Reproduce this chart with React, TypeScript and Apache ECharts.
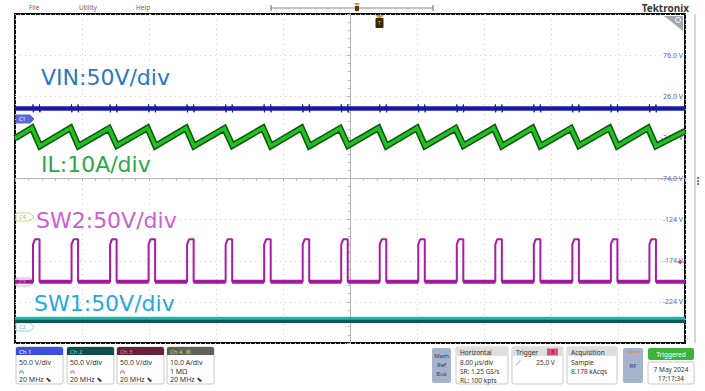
import { useEffect, useRef } from "react";
import * as echarts from "echarts";

// ---- data (time in µs, vertical in graticule divisions) ----
const ilPeakT = [-37.97, -33.37, -28.78, -24.18, -19.58, -14.99, -10.39, -5.79, -1.19, 3.4, 8.0, 12.6, 17.19, 21.79, 26.39, 30.98, 35.58];
const ilTroughT = [-37.02, -32.42, -27.83, -23.23, -18.63, -14.04, -9.44, -4.84, -0.24, 4.35, 8.95, 13.55, 18.14, 22.74, 27.34, 31.93, 36.53];
const ilPeakV = [1.23, 1.23, 1.22, 1.23, 1.23, 1.22, 1.23, 1.23, 1.22, 1.23, 1.23, 1.22, 1.23, 1.23, 1.22, 1.23, 1.23];
const ilTroughV = [0.79, 0.79, 0.8, 0.79, 0.79, 0.8, 0.79, 0.79, 0.8, 0.79, 0.79, 0.8, 0.79, 0.79, 0.8, 0.79, 0.79];
const ilEdge = [0.98, 1.15];

const sw2Rise = [-37.85, -33.25, -28.65, -24.05, -19.45, -14.85, -10.25, -5.65, -1.05, 3.55, 8.15, 12.75, 17.35, 21.95, 26.55, 31.15, 35.75];
const sw2Fall = [-37.07, -32.47, -27.87, -23.27, -18.67, -14.07, -9.47, -4.87, -0.27, 4.33, 8.93, 13.53, 18.13, 22.73, 27.33, 31.93, 36.53];
const sw2Levels = { low: -2.51, highStart: -1.6, highEnd: -1.48 };

const vinLevel = 1.7;
const vinSpike = [0.1, -0.09];
const sw1Level = -3.41;

const divTicks = [3, 2, 1, 0, -1, -2, -3];
const voltTickLabels = ["76.0 V", "26.0 V", "-24.0 V", "-74.0 V", "-124 V", "-174 V", "-224 V"];

const FONT = "'Noto Sans', 'DejaVu Sans', sans-serif";
const ANNOT_FONT = "'DejaVu Sans', 'Noto Sans', sans-serif";

function buildIL() {
  const d: [number, number][] = [[-40, ilEdge[0]]];
  ilPeakT.forEach((t, i) => {
    d.push([t, ilPeakV[i]]);
    d.push([ilTroughT[i], ilTroughV[i]]);
  });
  d.push([40, ilEdge[1]]);
  return d;
}

function buildSW2() {
  const d: [number, number][] = [[-40, sw2Levels.low]];
  sw2Rise.forEach((r, i) => {
    const f = sw2Fall[i];
    d.push([r, sw2Levels.low]);
    d.push([r, sw2Levels.highStart]);
    d.push([r + (f - r) * 0.3, sw2Levels.highEnd]);
    d.push([f, sw2Levels.highEnd]);
    d.push([f, sw2Levels.low]);
  });
  d.push([40, sw2Levels.low]);
  return d;
}

function buildSW2Low() {
  const d: ([number, number] | [number, null])[] = [];
  const starts = [-40, ...sw2Fall];
  const ends = [...sw2Rise, 40];
  starts.forEach((s, i) => {
    d.push([s, sw2Levels.low]);
    d.push([ends[i], sw2Levels.low]);
    d.push([ends[i], null]);
  });
  return d;
}

function buildVINNoise() {
  const d: [number, number][] = [[-40, vinLevel]];
  [...sw2Rise, ...sw2Fall].sort((a, b) => a - b).forEach((t) => {
    d.push([t - 0.03, vinLevel]);
    d.push([t, vinLevel + vinSpike[0]]);
    d.push([t + 0.04, vinLevel + vinSpike[1]]);
    d.push([t + 0.08, vinLevel]);
  });
  d.push([40, vinLevel]);
  return d;
}

function txt(x: number, y: number, text: string, size: number, fill: string, opts: any = {}) {
  return {
    type: "text",
    x,
    y,
    silent: true,
    z: opts.z ?? 10,
    style: {
      text,
      fill,
      fontSize: size,
      fontFamily: opts.family ?? FONT,
      fontWeight: opts.weight ?? "normal",
      align: opts.align ?? "left",
      verticalAlign: opts.va ?? "middle",
    },
  };
}

function tag(y: number, label: string, stroke: string, fill: string, textFill: string) {
  return {
    type: "group",
    z: 20,
    children: [
      {
        type: "polygon",
        shape: { points: [[16, y - 4], [30, y - 4], [34, y], [30, y + 4], [16, y + 4]] },
        style: { fill, stroke, lineWidth: 1 },
      },
      txt(19, y, label, 5.5, textFill),
    ],
  };
}

function chPanel(x: number, head: string, headColor: string, headText: string, lines: string[]) {
  const w = 47;
  return {
    type: "group",
    children: [
      { type: "rect", shape: { x, y: 347, width: w, height: 37, r: 2 }, style: { fill: "#fff", stroke: "#c8c8c8", lineWidth: 1 } },
      { type: "rect", shape: { x, y: 347, width: w, height: 8, r: [2, 2, 0, 0] }, style: { fill: headColor } },
      txt(x + 3, 351.5, head, 6, headText),
      ...lines.map((l, i) => txt(x + 3, 362.5 + i * 8.5, l, 7, "#333")),
    ],
  };
}

function infoPanel(x: number, w: number, head: string, lines: string[]) {
  return {
    type: "group",
    children: [
      { type: "rect", shape: { x, y: 347, width: w, height: 37, r: 2 }, style: { fill: "#fff", stroke: "#c8c8c8", lineWidth: 1 } },
      { type: "rect", shape: { x: x + 1, y: 348, width: w - 2, height: 8 }, style: { fill: "#dedede" } },
      txt(x + 4, 352, head, 6.5, "#333"),
      ...lines.map((l, i) => txt(x + 4, 362 + i * 9, l, 6.5, "#333")),
    ],
  };
}

export default function App() {
  const ref = useRef<HTMLDivElement>(null);
  useEffect(() => {
    document.body.style.margin = "0";
    const chart = echarts.init(ref.current!, null, { renderer: "svg" });
    const lineBase = { type: "line", showSymbol: false, symbol: "none", silent: true, animation: false, xAxisIndex: 0, yAxisIndex: 0 };
    const option: any = {
      animation: false,
      backgroundColor: "#ffffff",
      grid: { left: 15, right: 20, top: 14, bottom: 48, show: true, borderColor: "#111", borderWidth: 2, backgroundColor: "transparent" },
      xAxis: {
        type: "value",
        min: -40,
        max: 40,
        interval: 8,
        axisLine: { show: true, onZero: true, lineStyle: { color: "#b4b4b4", width: 1 } },
        axisTick: { show: true, length: 3, lineStyle: { color: "#b4b4b4" } },
        minorTick: { show: true, splitNumber: 5, length: 2, lineStyle: { color: "#b4b4b4" } },
        axisLabel: { show: false },
        splitLine: { show: true, lineStyle: { color: "#cfcfcf", type: [1, 4] } },
      },
      yAxis: [
        {
          type: "value",
          min: -4,
          max: 4,
          interval: 1,
          axisLine: { show: true, onZero: true, lineStyle: { color: "#b4b4b4", width: 1 } },
          axisTick: { show: true, length: 3, lineStyle: { color: "#b4b4b4" } },
          minorTick: { show: true, splitNumber: 5, length: 2, lineStyle: { color: "#b4b4b4" } },
          axisLabel: { show: false },
          splitLine: { show: true, lineStyle: { color: "#cfcfcf", type: [1, 4] } },
        },
        {
          type: "value",
          position: "right",
          min: -4,
          max: 4,
          interval: 1,
          axisLine: { show: false },
          axisTick: { show: false },
          splitLine: { show: false },
          axisLabel: {
            inside: true,
            margin: 2,
            color: "#5e5ec4",
            fontSize: 7,
            fontFamily: FONT,
            formatter: (v: number) => {
              const i = divTicks.indexOf(Math.round(v));
              return i >= 0 ? voltTickLabels[i] : "";
            },
          },
        },
      ],
      series: [
        { ...lineBase, name: "VIN", data: [[-40, vinLevel], [40, vinLevel]], z: 3, lineStyle: { color: "#1a1aa8", width: 4.5 } },
        { ...lineBase, name: "VIN-noise", data: buildVINNoise(), z: 3, lineStyle: { color: "#1a1aa8", width: 1 } },
        { ...lineBase, name: "IL-edge", data: buildIL(), z: 4, lineStyle: { color: "#0d560d", width: 6.5, join: "miter" } },
        { ...lineBase, name: "IL", data: buildIL(), z: 5, lineStyle: { color: "#22bf22", width: 3.5, join: "miter" } },
        { ...lineBase, name: "SW2", data: buildSW2(), z: 6, lineStyle: { color: "#a81ca8", width: 2 } },
        { ...lineBase, name: "SW2-low", data: buildSW2Low(), connectNulls: false, z: 6, lineStyle: { color: "#a01aa0", width: 4 } },
        { ...lineBase, name: "SW1-edge", data: [[-40, sw1Level - 0.04], [40, sw1Level - 0.04]], z: 3, lineStyle: { color: "#0b5a5a", width: 5 } },
        { ...lineBase, name: "SW1", data: [[-40, sw1Level + 0.01], [40, sw1Level + 0.01]], z: 4, lineStyle: { color: "#22b6b0", width: 3 } },
      ],
      graphic: [
        // top bar
        txt(29, 7, "File", 6.5, "#666"),
        txt(79, 7, "Utility", 6.5, "#666"),
        txt(136, 7, "Help", 6.5, "#666"),
        { type: "line", shape: { x1: 271, y1: 8, x2: 433, y2: 8 }, style: { stroke: "#888", lineWidth: 1 } },
        { type: "line", shape: { x1: 271, y1: 5, x2: 271, y2: 11 }, style: { stroke: "#666", lineWidth: 1 } },
        { type: "line", shape: { x1: 433, y1: 5, x2: 433, y2: 11 }, style: { stroke: "#666", lineWidth: 1 } },
        { type: "polygon", shape: { points: [[354, 3], [360, 3], [357, 6]] }, style: { fill: "#e08a30" } },
        { type: "rect", shape: { x: 355, y: 6, width: 4, height: 5 }, style: { fill: "#5a3a10" } },
        txt(689, 8, "Tektronix", 10, "#3a3a3a", { align: "right", weight: "bold" }),
        // trigger T marker
        { type: "polygon", z: 20, shape: { points: [[375, 15], [384, 15], [379.5, 19]] }, style: { fill: "#f09030" } },
        { type: "rect", z: 20, shape: { x: 375.5, y: 18, width: 8, height: 10, r: 1 }, style: { fill: "#3a2a0a" } },
        txt(379.5, 23, "T", 6, "#f0a040", { align: "center", z: 21 }),
        // zoom icon corner
        { type: "polygon", z: 20, shape: { points: [[664, 16], [683, 16], [683, 31]] }, style: { fill: "#a2aab8" } },
        { type: "circle", z: 21, shape: { cx: 678, cy: 20, r: 2.5 }, style: { fill: "none", stroke: "#fff", lineWidth: 1 } },
        // right side strip
        { type: "line", shape: { x1: 695, y1: 14, x2: 695, y2: 343 }, style: { stroke: "#b0b0b0", lineWidth: 1 } },
        { type: "circle", shape: { cx: 698, cy: 178, r: 0.9 }, style: { fill: "#444" } },
        { type: "circle", shape: { cx: 698, cy: 181, r: 0.9 }, style: { fill: "#444" } },
        { type: "circle", shape: { cx: 698, cy: 184, r: 0.9 }, style: { fill: "#444" } },
        // trigger level arrow
        { type: "polygon", z: 20, shape: { points: [[677, 262], [681, 259.5], [681, 264.5]] }, style: { fill: "#d0406a" } },
        { type: "line", z: 20, shape: { x1: 680, y1: 262, x2: 684, y2: 262 }, style: { stroke: "#d0406a", lineWidth: 1 } },
        // channel tags
        tag(119, "C1", "#5a68d8", "#5a68d8", "#ffffff"),
        tag(217, "C4", "#c8d890", "#ffffff", "#a8b868"),
        tag(282, "C3", "#eaa8c8", "#ffffff", "#e090b8"),
        tag(327, "C2", "#90d4e8", "#ffffff", "#60bcd8"),
        // annotations
        txt(41, 77, "VIN:50V/div", 22, "#2a78c2", { z: 30, family: ANNOT_FONT }),
        txt(41, 164, "IL:10A/div", 22, "#2ea84a", { z: 30, family: ANNOT_FONT }),
        txt(36, 220.5, "SW2:50V/div", 22, "#c862d0", { z: 30, family: ANNOT_FONT }),
        txt(34, 303.5, "SW1:50V/div", 22, "#28a8e0", { z: 30, family: ANNOT_FONT }),
        // bottom channel panels
        chPanel(16, "Ch 1", "#3c4fe0", "#ffffff", ["50.0 V/div", "⩀", "20 MHz ⬊"]),
        chPanel(67, "Ch 2", "#0f4d4d", "#7ad0d0", ["50.0 V/div", "⩀", "20 MHz ⬊"]),
        chPanel(117, "Ch 3", "#6a1f36", "#e090b0", ["50.0 V/div", "⩀", "20 MHz ⬊"]),
        chPanel(167, "Ch 4  ⚙", "#5e6258", "#c8d870", ["10.0 A/div", "1 MΩ", "20 MHz ⬊"]),
        // right panels
        { type: "rect", shape: { x: 432, y: 348, width: 19, height: 35, r: 2 }, style: { fill: "#a7b2cc" } },
        txt(441.5, 356, "Math", 6, "#2c3a66", { align: "center" }),
        txt(441.5, 365, "Ref", 6, "#2c3a66", { align: "center" }),
        txt(441.5, 374, "Bus", 6, "#2c3a66", { align: "center" }),
        infoPanel(456, 52, "Horizontal", ["8.00 µs/div", "SR: 1.25 GS/s", "RL: 100 kpts"]),
        infoPanel(512, 51, "Trigger", ["⟋         25.0 V"]),
        { type: "rect", shape: { x: 547, y: 348.5, width: 11, height: 7 }, style: { fill: "#e0507a" } },
        txt(552.5, 352, "3", 5.5, "#5a0a20", { align: "center" }),
        infoPanel(567, 50, "Acquisition", ["Sample", "8.178 kAcqs"]),
        { type: "rect", shape: { x: 623, y: 348, width: 20, height: 35, r: 2 }, style: { fill: "#a7b2cc" } },
        { type: "line", shape: { x1: 627, y1: 352, x2: 639, y2: 352 }, style: { stroke: "#e08040", lineWidth: 1 } },
        txt(633, 366, "RF", 6, "#2c3a66", { align: "center" }),
        { type: "rect", shape: { x: 648, y: 348, width: 46, height: 12, r: 2 }, style: { fill: "#3cb43c" } },
        txt(671, 354, "Triggered", 6.5, "#ffffff", { align: "center" }),
        { type: "rect", shape: { x: 648, y: 362, width: 46, height: 22, r: 2 }, style: { fill: "#fff", stroke: "#c8c8c8", lineWidth: 1 } },
        txt(671, 369, "7 May 2024", 6.5, "#333", { align: "center" }),
        txt(671, 378, "17:17:34", 6.5, "#333", { align: "center" }),
      ],
    };
    chart.setOption(option);
    return () => chart.dispose();
  }, []);
  return <div ref={ref} style={{ width: 705, height: 391 }} />;
}
